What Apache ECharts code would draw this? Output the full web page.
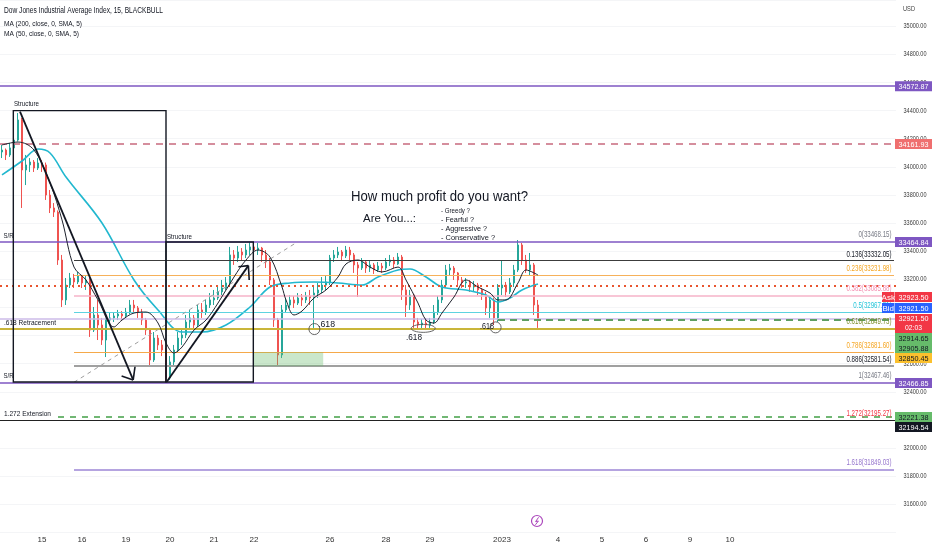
<!DOCTYPE html>
<html><head><meta charset="utf-8">
<script src="https://cdn.jsdelivr.net/npm/echarts@6/dist/echarts.min.js"></script>
<style>html,body{margin:0;padding:0;background:#fff}#c{width:932px;height:550px}</style>
</head><body><div id="c"></div>
<script>
// ---------- DATA ----------
const slotCount = 224;
const dateTicks = [[10,'15'],[20,'16'],[31,'19'],[42,'20'],[53,'21'],[63,'22'],[82,'26'],[96,'28'],[107,'29'],[125,'2023'],[139,'4'],[150,'5'],[161,'6'],[172,'9'],[182,'10']];
// [open, close, low, high]
const candles = [
[34105,34119,34062,34155],[34119,34084,34048,34130],[34084,34134,34070,34169],[34134,34190,34119,34226],
[34190,34333,34180,34382],[34333,33977,33707,34347],[33977,34013,33870,34084],[34013,34034,33963,34062],
[34034,33991,33963,34048],[33991,34027,33977,34062],[34027,34013,33963,34048],[34013,33799,33764,34030],
[33799,33707,33671,33835],[33707,33678,33643,33742],[33678,33337,33302,33690],[33337,33053,33003,33373],
[33053,33159,33017,33209],[33159,33209,33138,33245],[33209,33181,33138,33238],[33181,33223,33166,33252],
[33223,33174,33138,33230],[33174,33195,33124,33223],[33195,32839,32790,33210],[32839,32946,32825,33003],
[32946,32875,32768,33053],[32875,32768,32733,32925],[32768,32910,32647,32925],[32910,32925,32875,32960],
[32925,32939,32896,32967],[32939,32953,32910,32982],[32953,32939,32903,32974],[32939,32967,32925,32996],
[32967,33017,32953,33053],[33017,32996,32967,33053],[32996,32967,32925,33010],[32967,32910,32875,32989],
[32910,32839,32804,32925],[32839,32626,32576,32854],[32626,32782,32612,32825],[32782,32733,32697,32804],
[32733,32697,32654,32768],[32697,32498,32470,32711],[32498,32612,32485,32654],[32612,32697,32590,32733],
[32697,32782,32683,32825],[32782,32804,32733,32839],[32804,32896,32782,32946],[32896,32925,32854,32982],
[32925,32875,32839,32946],[32875,32982,32861,33017],[32982,32967,32925,33031],[32967,33017,32946,33053],
[33017,33053,32996,33102],[33053,33067,33017,33124],[33067,33110,33053,33152],[33110,33138,33088,33195],
[33138,33174,33124,33216],[33174,33373,33159,33430],[33373,33351,33302,33408],[33351,33394,33323,33437],
[33394,33373,33337,33422],[33373,33408,33351,33451],[33408,33430,33373,33465],[33430,33408,33366,33451],
[33408,33422,33373,33458],[33422,33373,33323,33430],[33373,33323,33280,33408],[33323,33195,33159,33351],
[33195,32910,32861,33209],[32910,32662,32590,32925],[32662,32982,32640,33017],[32982,33017,32967,33067],
[33017,33053,32996,33088],[33053,33031,32996,33081],[33031,33067,33017,33102],[33067,33053,33010,33095],
[33053,33081,33031,33110],[33081,33067,33017,33124],[33067,33102,32854,33145],[33102,33124,33067,33174],
[33124,33159,33102,33216],[33159,33181,33124,33223],[33181,33351,33159,33373],[33351,33373,33323,33408],
[33373,33394,33351,33430],[33394,33366,33337,33408],[33366,33408,33351,33437],[33408,33373,33337,33430],
[33373,33302,33245,33387],[33302,33280,33074,33323],[33280,33323,33266,33351],[33323,33280,33245,33337],
[33280,33302,33252,33330],[33302,33266,33238,33316],[33266,33294,33252,33323],[33294,33280,33245,33316],
[33280,33323,33266,33351],[33323,33337,33294,33373],[33337,33309,33280,33358],[33309,33358,33302,33387],
[33358,33124,33053,33373],[33124,33017,32932,33159],[33017,33088,32982,33124],[33088,32896,32854,33095],
[32896,32875,32839,32925],[32875,32889,32846,32918],[32889,32875,32839,32910],[32875,32896,32854,32925],
[32896,32967,32882,33017],[32967,33053,32946,33081],[33053,33159,33031,33195],[33159,33266,33138,33302],
[33266,33280,33230,33309],[33280,33245,33195,33294],[33245,33195,33159,33252],[33195,33174,33138,33216],
[33174,33181,33138,33209],[33181,33145,33110,33195],[33145,33159,33110,33188],[33159,33124,33088,33174],
[33124,33088,33053,33138],[33088,32996,32946,33110],[32996,33053,32925,33081],[33053,32925,32875,33067],
[32925,33138,32896,33166],[33138,33159,33088,33337],[33159,33110,33074,33181],[33110,33174,33095,33209],
[33174,33266,33145,33302],[33266,33444,33252,33479],[33444,33337,33302,33458],[33337,33266,33245,33373],
[33266,33302,33230,33387],[33302,33017,32946,33316],[33017,32921,32854,33053]
];
// [slot, value]
const ma200 = [[0,33942],[5,34041],[9,34126],[12,34098],[16,33927],[25,33600],[33,33195],[39,32982],[45,32825],[50,32825],[56,32875],[62,33003],[67,33145],[72,33174],[78,33181],[84,33174],[90,33159],[94,33216],[99,33266],[102,33273],[106,33216],[110,33145],[116,33124],[121,33088],[124,33038],[127,33067],[130,33124],[134,33166]];
const ma50 = [[0,34155],[4,34176],[8,34119],[12,33885],[15,33622],[18,33287],[21,33195],[24,33053],[28,32861],[30,32910],[33,32960],[36,32967],[39,32889],[41,32747],[43,32676],[45,32718],[48,32839],[51,32910],[54,33031],[58,33216],[61,33337],[64,33408],[67,33358],[70,33145],[71,33053],[73,32946],[75,32974],[78,33067],[81,33124],[84,33216],[86,33309],[89,33337],[92,33287],[95,33252],[99,33287],[101,33195],[104,33031],[106,32910],[108,32889],[110,32960],[113,33074],[116,33195],[119,33145],[122,33102],[124,33053],[126,33053],[129,33174],[131,33266],[134,33230]];
const fibRatios = [0, 0.136, 0.236, 0.382, 0.5, 0.618, 0.786, 0.886, 1, 1.272, 1.618];
const fibValues = [33468.15, 33332.05, 33231.98, 33085.88, 32967.81, 32849.73, 32681.60, 32581.54, 32467.46, 32195.27, 31849.03];
const levelValues = [34572.87, 34161.93, 33464.84, 33154.00, 32920.00, 32850.45, 32466.85, 32194.54];
const extensionLevel = 32221.38;
const maLevel = 32914.65;
const priceTicks = [31600,31800,32000,32200,32400,32600,32800,33000,33200,33400,33600,33800,34000,34200,34400,34600,34800,35000];
const askPrice = 32923.50, bidPrice = 32921.50, lastPrice = 32921.50, countdown = '02:03';
const extraTags = [32914.65, 32905.88, 32850.45];

// ---------- CHART ----------
const FONT = '"Liberation Sans", Arial, sans-serif';
const slots = Array.from({length: slotCount}, (_, i) => 's' + i);
const tickMap = new Map(dateTicks);
const chart = echarts.init(document.getElementById('c'), null, {renderer: 'canvas'});

const levelStyle = [
  {color:'#7e57c2', width:1.5, type:'solid'},
  {color:'#c8697e', width:1.5, type:[7,6]},
  {color:'#7e57c2', width:1.5, type:'solid'},
  {color:'#e8552f', width:2, type:[2,4]},
  {color:'#cdbbe8', width:1.5, type:'solid'},
  {color:'#c9b53a', width:2, type:'solid'},
  {color:'#7e57c2', width:1.5, type:'solid'},
  {color:'#222222', width:1, type:'solid'}
];
const levelLines = levelValues.map((v, i) => ({yAxis: v, lineStyle: levelStyle[i]}));
const lastSlot = slotCount - 1;
const fibLineStyle = {
  1:{color:'#3c3c3c', width:1}, 2:{color:'#f6b15a', width:1.2}, 3:{color:'#f6b3c8', width:1.6},
  4:{color:'#5dd3e0', width:1.2}, 6:{color:'#f5a94a', width:1.2}, 7:{color:'#a0a0a0', width:2},
  10:{color:'#9d86d6', width:1.5}
};
const fibLines = [];
fibValues.forEach((v, i) => {
  if (fibLineStyle[i]) fibLines.push([{coord:[18, v], lineStyle:Object.assign({type:'solid'}, fibLineStyle[i])}, {coord:[lastSlot, v]}]);
});
fibLines.push([{coord:[14, extensionLevel], lineStyle:{color:'#43a047', width:1.5, type:[6,6]}}, {coord:[lastSlot, extensionLevel]}]);
fibLines.push([{coord:[124, maLevel], lineStyle:{color:'#5e9e62', width:2, type:[7,5]}}, {coord:[lastSlot, maLevel]}]);
fibLines.push([{coord:[18, fibValues[8]], lineStyle:{color:'#9e9e9e', width:1, type:[4,4]}}, {coord:[74, fibValues[0]]}]);

chart.setOption({
  animation: false,
  backgroundColor: '#ffffff',
  grid: {left: 0, right: 36, top: 0, bottom: 17.6},
  xAxis: {
    type: 'category', data: slots, boundaryGap: true,
    axisLine: {show: false}, axisTick: {show: false}, splitLine: {show: false},
    axisLabel: {
      interval: (i) => tickMap.has(i),
      formatter: (v, i) => tickMap.get(i) || '',
      margin: 3, fontSize: 8, color: '#333', fontFamily: FONT
    }
  },
  yAxis: {
    type: 'value', position: 'right', min: 31400, max: 35186, interval: 200, scale: true,
    axisLine: {show: false}, axisTick: {show: false}, axisLabel: {show: false},
    splitLine: {lineStyle: {color: '#f4f5f7', width: 1}}
  },
  series: [
    {
      type: 'candlestick', name: 'price', data: candles, barWidth: 2.4, z: 3,
      itemStyle: {color: '#26a69a', color0: '#ef5350', borderColor: '#26a69a', borderColor0: '#ef5350', borderWidth: 1}
    },
    {
      type: 'line', name: 'MA200', data: ma200, smooth: 0.35, symbol: 'none', z: 4,
      lineStyle: {color: '#22b8cf', width: 1.6},
      markLine: {silent: true, symbol: ['none','none'], label: {show: false}, animation: false, data: levelLines}
    },
    {
      type: 'line', name: 'MA50', data: ma50, smooth: 0.35, symbol: 'none', z: 5,
      lineStyle: {color: '#1e222d', width: 1},
      markLine: {silent: true, symbol: ['none','none'], label: {show: false}, animation: false, data: fibLines}
    }
  ]
});

// ---------- GRAPHICS (text, drawings, tags) ----------
const mctx = document.createElement('canvas').getContext('2d');
function measure(t, size, weight) { mctx.font = (weight || 'normal') + ' ' + size + 'px ' + FONT; return mctx.measureText(t).width; }
function T(t, x, y, size, color, width, align, weight, z) {
  const s = width ? width / measure(t, size, weight) : 1;
  return {type: 'text', x: x, y: y, scaleX: s, z: z || 100, silent: true,
    style: {text: t, x: 0, y: 0, fill: color, fontSize: size, fontFamily: FONT, fontWeight: weight || 'normal', align: align || 'left', verticalAlign: 'middle'}};
}
function yPix(v) { return chart.convertToPixel({yAxisIndex: 0}, v); }
function P(s, v) {
  const s0 = Math.floor(s);
  const a = chart.convertToPixel({xAxisIndex: 0}, s0);
  const b = chart.convertToPixel({xAxisIndex: 0}, s0 + 1);
  return [a + (b - a) * (s - s0), yPix(v)];
}
function line(p1, p2, color, width, z) {
  return {type: 'line', z: z || 90, silent: true, shape: {x1: p1[0], y1: p1[1], x2: p2[0], y2: p2[1]}, style: {stroke: color, lineWidth: width}};
}
function tagBox(cy, text, bg, fg, z, x0, w, h) {
  x0 = x0 || 895; w = w || 37; h = h || 10;
  return [
    {type: 'rect', z: z || 110, silent: true, shape: {x: x0, y: cy - h / 2, width: w, height: h}, style: {fill: bg}},
    T(text, x0 + w / 2, cy + 0.5, 8, fg, text.length > 4 ? 30 : null, 'center', 'normal', (z || 110) + 1)
  ];
}

const G = [];
// legend
G.push(T('Dow Jones Industrial Average Index, 15, BLACKBULL', 4, 11, 8.5, '#131722', 159));
G.push(T('MA (200, close, 0, SMA, 5)', 4, 23.5, 8, '#131722', 78));
G.push(T('MA (50, close, 0, SMA, 5)', 4, 34, 8, '#131722', 75));
G.push(T('USD', 903, 9, 7, '#444', 12));
// y axis labels
priceTicks.forEach(v => G.push(T(v.toFixed(2), 915, yPix(v), 8, '#3a3a3a', 23, 'center', 'normal', 95)));

// structure boxes
const boxes = [[2.83, 34399, 41, 32470], [41, 33464.84, 62.83, 32470]];
boxes.forEach(b => {
  const p1 = P(b[0], b[1]), p2 = P(b[2], b[3]);
  G.push({type: 'rect', z: 80, silent: true, shape: {x: p1[0], y: p1[1], width: p2[0] - p1[0], height: p2[1] - p1[1]}, style: {fill: 'none', stroke: '#131722', lineWidth: 1.4}});
});
// green zone
(function(){
  const p1 = P(62.8, 32681.6), p2 = P(80.3, 32581.54);
  G.push({type: 'rect', z: 6, silent: true, shape: {x: p1[0], y: p1[1], width: p2[0] - p1[0], height: p2[1] - p1[1]}, style: {fill: 'rgba(102,187,106,0.35)'}});
})();
// arrows
const arrows = [
  {from: [4.5, 34392], to: [32.8, 32484], wings: [[29.9, 32512], [33.25, 32578]]},
  {from: [41.2, 32472], to: [61.6, 33297], wings: [[59.1, 33289], [61.8, 33195]]}
];
arrows.forEach(a => {
  const f = P(a.from[0], a.from[1]), t = P(a.to[0], a.to[1]);
  G.push(line(f, t, '#131722', 1.8));
  a.wings.forEach(w => G.push(line(t, P(w[0], w[1]), '#131722', 1.6)));
});
// circles around .618 touches
const c1 = P(78.1, 32846), c2 = P(105.3, 32851), c3 = P(123.4, 32858);
G.push({type: 'circle', z: 90, silent: true, shape: {cx: c1[0], cy: c1[1], r: 5.5}, style: {fill: 'none', stroke: '#555', lineWidth: 0.9}});
G.push({type: 'ellipse', z: 90, silent: true, shape: {cx: c2[0], cy: c2[1], rx: 12, ry: 4}, style: {fill: 'none', stroke: '#555', lineWidth: 0.9}});
G.push({type: 'circle', z: 90, silent: true, shape: {cx: c3[0], cy: c3[1], r: 5.5}, style: {fill: 'none', stroke: '#555', lineWidth: 0.9}});
G.push(T('.618', 318, 324.3, 9, '#131722', 17));
G.push(T('.618', 406, 337.3, 9, '#131722', 16));
G.push(T('.618', 480, 326.7, 9, '#131722', 14));

// annotation texts
G.push(T('How much profit do you want?', 351, 196.7, 15, '#131722', 177));
G.push(T('Are You...:', 363, 219.3, 11, '#131722', 53));
G.push(T('- Greedy ?', 441, 210.7, 8, '#131722', 29));
G.push(T('- Fearful ?', 441, 219.6, 8, '#131722', 33));
G.push(T('- Aggressive ?', 441, 229, 8, '#131722', 46));
G.push(T('- Conservative ?', 441, 238.2, 8, '#131722', 54));
G.push(T('Structure', 14, 104, 8, '#131722', 25));
G.push(T('Structure', 167, 236.5, 8, '#131722', 25));
G.push(T('S/R', 3.5, 235.7, 8, '#131722', 10));
G.push(T('S/R', 3.5, 376, 8, '#131722', 10));
G.push(T('.618 Retracement', 4, 322.3, 8, '#131722', 52));
G.push(T('1.272 Extension', 4, 414, 8, '#131722', 47));

// fib labels
const fibColors = ['#787b86','#131722','#f5a623','#f48fb1','#26c6da','#7e8f2c','#f5a623','#131722','#787b86','#f23645','#9575cd'];
const fibScale = 45 / measure('0.136(33332.05)', 8.5);
fibValues.forEach((v, i) => {
  const t = String(fibRatios[i]) + '(' + v.toFixed(2) + ')';
  G.push({type: 'text', x: 891.5, y: yPix(v) - 6.5, scaleX: fibScale, z: 100, silent: true,
    style: {text: t, x: 0, y: 0, fill: fibColors[i], fontSize: 8.5, fontFamily: FONT, align: 'right', verticalAlign: 'middle'}});
});

// price tags
G.push(...tagBox(yPix(levelValues[0]), levelValues[0].toFixed(2), '#7e57c2', '#fff'));
G.push(...tagBox(yPix(levelValues[1]), levelValues[1].toFixed(2), '#ef6f6f', '#fff'));
G.push(...tagBox(yPix(levelValues[2]), levelValues[2].toFixed(2), '#7e57c2', '#fff'));
G.push(...tagBox(297, askPrice.toFixed(2), '#f23645', '#fff'));
G.push(...tagBox(297, 'Ask', '#f23645', '#fff', 112, 882, 12.5, 10));
G.push(...tagBox(308, bidPrice.toFixed(2), '#2962ff', '#fff'));
G.push(...tagBox(308, 'Bid', '#2962ff', '#fff', 112, 882, 12.5, 10));
G.push({type: 'rect', z: 110, silent: true, shape: {x: 895, y: 314, width: 37, height: 19}, style: {fill: '#f23645'}});
G.push(T(lastPrice.toFixed(2), 913.5, 319.2, 8, '#fff', 30, 'center', 'normal', 111));
G.push(T(countdown, 913.5, 328, 8, '#fff', 17, 'center', 'normal', 111));
G.push(...tagBox(338, extraTags[0].toFixed(2), '#66bb6a', '#131722'));
G.push(...tagBox(348, extraTags[1].toFixed(2), '#66bb6a', '#131722'));
G.push(...tagBox(358, extraTags[2].toFixed(2), '#fbc02d', '#131722'));
G.push(...tagBox(383, levelValues[6].toFixed(2), '#7e57c2', '#fff'));
G.push(...tagBox(417, extensionLevel.toFixed(2), '#66bb6a', '#131722'));
G.push(...tagBox(427, levelValues[7].toFixed(2), '#131722', '#fff'));

// lightning icon
G.push({type: 'circle', z: 100, silent: true, shape: {cx: 537, cy: 521, r: 5.5}, style: {fill: '#fff', stroke: '#ab47bc', lineWidth: 1.2}});
G.push({type: 'polyline', z: 101, silent: true, shape: {points: [[538.6, 517.3], [535.6, 521.6], [538.4, 521], [535.4, 524.8]]}, style: {fill: 'none', stroke: '#ab47bc', lineWidth: 1}});

chart.setOption({graphic: G});
</script>
</body></html>
